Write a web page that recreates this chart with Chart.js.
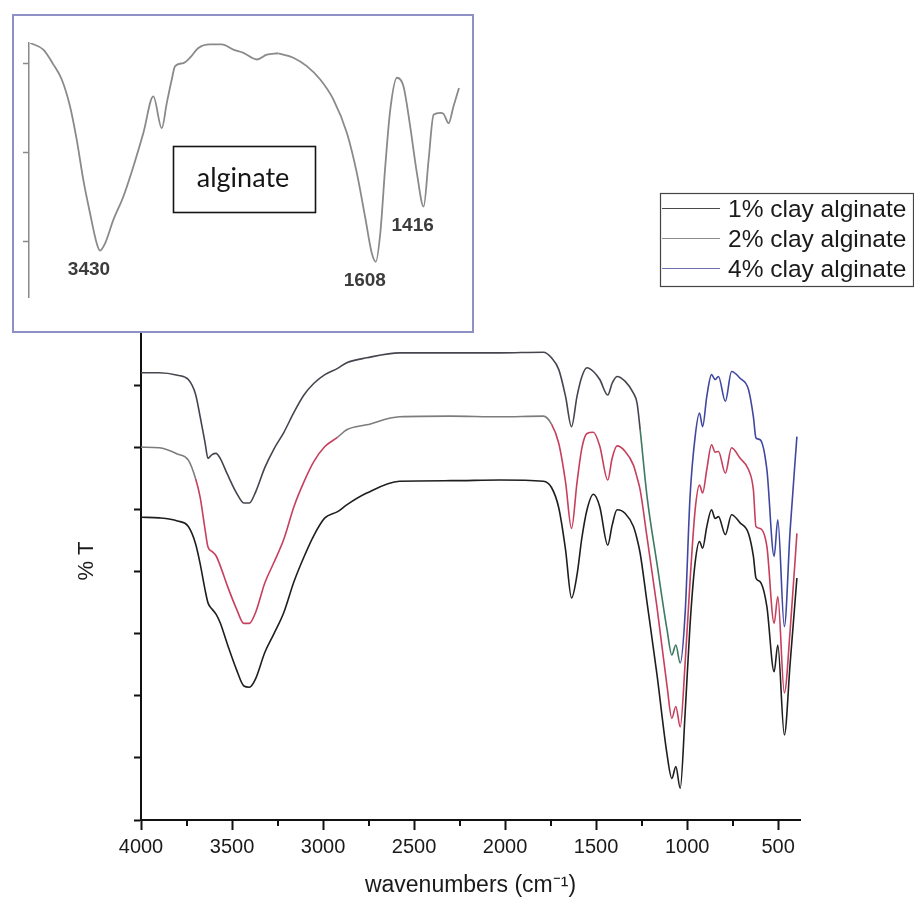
<!DOCTYPE html>
<html>
<head>
<meta charset="utf-8">
<script src="https://cdn.jsdelivr.net/npm/chart.js@4.4.1/dist/chart.umd.min.js"></script>
<style>
  html, body { margin: 0; padding: 0; background: #fff; }
  #wrap { position: relative; width: 914px; height: 905px; }
  #main { position: absolute; left: 0; top: 0; }
  #insetBox { position: absolute; left: 12px; top: 14px; width: 462px; height: 319px;
              box-sizing: border-box; border: 2px solid #8e90c6; background: #fff; }
  #inset { position: absolute; left: 0; top: 0; }
</style>
</head>
<body>
<div id="wrap">
  <canvas id="main" width="914" height="905"></canvas>
  <div id="insetBox"><canvas id="inset" width="458" height="315"></canvas></div>
</div>
<script>
// ---- clay/alginate spectra (wavenumber in cm-1, transmittance in %T, offset traces) ----
const wavenumbers = [
  4000, 3900, 3800, 3740, 3700, 3675, 3648, 3632, 3610, 3588,
  3565, 3525, 3475, 3435, 3405, 3370, 3320, 3270, 3215, 3160,
  3105, 3050, 2990, 2920, 2870, 2760, 2580, 2300, 2030, 1790,
  1745, 1705, 1668, 1635, 1605, 1578, 1550, 1515, 1480, 1436,
  1412, 1385, 1340, 1295, 1275, 1258, 1220, 1166, 1110, 1084,
  1062, 1038, 1011, 984, 956, 932, 915, 892, 866, 846,
  828, 790, 756, 709, 663, 636, 622, 599, 562, 522,
  502, 466, 434, 397
];
const clay1 = [
  48.8, 48.7, 48.2, 47.3, 44.5, 41.3, 37.1, 35.0, 34.0, 33.2,
  31.8, 28.3, 24.2, 21.6, 21.4, 22.8, 27.0, 30.0, 33.5, 38.4,
  42.4, 45.9, 48.7, 49.7, 50.8, 52.7, 54.6, 54.7, 54.8, 54.6,
  53.6, 50.3, 43.6, 35.8, 39.5, 45.5, 50.0, 52.5, 50.5, 44.3,
  47.5, 50.0, 49.4, 47.3, 45.3, 43.0, 35.0, 23.5, 10.5, 6.7,
  8.6, 5.1, 17.2, 31.5, 41.5, 44.9, 43.8, 47.3, 50.0, 48.6,
  48.9, 46.0, 49.2, 47.9, 46.2, 42.5, 39.0, 38.4, 34.4, 23.9,
  28.2, 13.7, 25.3, 39.0
];
const clay2 = [
  60.1, 60.0, 59.0, 58.0, 55.0, 52.0, 46.8, 44.0, 43.3, 42.6,
  41.0, 37.7, 34.0, 31.7, 31.7, 33.5, 38.2, 41.5, 45.3, 50.5,
  54.5, 57.8, 60.2, 61.7, 62.9, 63.7, 65.0, 65.1, 65.0, 65.1,
  63.8, 60.7, 54.5, 47.0, 54.4, 60.0, 62.3, 62.5, 60.3, 54.8,
  58.3, 60.3, 59.4, 57.2, 55.2, 53.2, 45.5, 34.4, 21.5, 16.4,
  18.3, 15.0, 25.3, 38.5, 50.0, 54.0, 52.7, 56.5, 60.5, 59.3,
  59.4, 55.9, 60.0, 58.3, 56.5, 53.2, 47.3, 47.0, 44.1, 31.7,
  36.0, 20.5, 30.6, 46.2
];
const clay4 = [
  72.1, 72.1, 71.7, 71.0, 68.6, 65.0, 60.8, 58.3, 58.9, 59.1,
  58.3, 55.7, 52.7, 51.1, 51.1, 52.9, 56.8, 59.8, 62.5, 65.7,
  68.5, 70.4, 71.8, 72.8, 73.7, 74.5, 75.3, 75.3, 75.3, 75.4,
  74.5, 72.6, 68.3, 63.4, 68.3, 71.5, 72.9, 72.3, 71.0, 68.5,
  70.4, 71.5, 70.7, 68.8, 67.2, 62.9, 52.1, 41.4, 30.6, 26.6,
  28.2, 25.3, 33.3, 52.1, 61.8, 65.6, 63.4, 68.3, 71.8, 71.0,
  71.5, 67.5, 72.3, 71.2, 69.4, 65.0, 61.6, 61.3, 56.5, 42.5,
  48.4, 31.2, 46.8, 61.8
];
const seriesNames = ['1% clay alginate', '2% clay alginate', '4% clay alginate'];
const majorTicks = [4000, 3500, 3000, 2500, 2000, 1500, 1000, 500];
const minorTicks = [3750, 3250, 2750, 2250, 1750, 1250, 750];

// ---- pure alginate reference spectrum (scale expands below 2000 cm-1) ----
const alginateHighWn = [
  3990, 3885, 3805, 3737, 3671, 3617, 3564, 3510, 3456, 3430,
  3390, 3323, 3243, 3162, 3082, 3002, 2934, 2894, 2854, 2827,
  2761, 2707, 2640, 2546, 2452, 2359, 2279, 2171, 2091, 2000
];
const alginateHighT = [
  64.6, 63.1, 59.8, 56.4, 50.4, 42.9, 33.9, 26.4, 19.6, 18.0,
  19.6, 24.9, 30.1, 36.9, 44.4, 52.6, 45.5, 51.1, 56.4, 59.4,
  60.1, 61.3, 63.5, 64.3, 64.3, 63.1, 62.4, 60.9, 62.0, 62.3
];
const alginateLowWn = [
  2000, 1939, 1885, 1831, 1778, 1724, 1684, 1651, 1624, 1608,
  1590, 1570, 1550, 1523, 1497, 1470, 1443, 1416, 1396, 1376,
  1349, 1336, 1316, 1296, 1274
];
const alginateLowT = [
  62.3, 61.3, 59.4, 56.4, 51.9, 44.4, 35.4, 25.6, 17.4, 15.5,
  21.9, 36.9, 49.6, 56.8, 54.9, 45.9, 35.4, 27.9, 38.4, 48.5,
  48.9, 48.7, 46.6, 50.4, 54.5
];
const alginatePeaks = [3430, 1608, 1416];
const insetTitle = 'alginate';

const FONT = '"Liberation Sans", Arial, Helvetica, sans-serif';
const toPoints = (xs, ys) => xs.map((x, i) => ({ x: x, y: ys[i] }));

// trace colours shift along the spectrum as in the scanned plot
const colourTop = ctx => {
  const w = ctx.p0.parsed.x;
  if (w > 1265) return '#45454f';
  if (w > 1038) return '#3e7a60';
  return '#4047a0';
};
const colourMid = ctx => {
  const w = ctx.p0.parsed.x;
  return (w > 3720 || (w < 2950 && w > 1760)) ? '#7c7c7c' : '#c63f5c';
};

// short minor ticks between the labelled wavenumbers
const minorTickPlugin = {
  id: 'minorTickPlugin',
  afterDraw(chart) {
    const xs = chart.scales.x;
    const ctx = chart.ctx;
    ctx.save();
    ctx.strokeStyle = '#111';
    ctx.lineWidth = 2;
    for (const v of minorTicks) {
      const px = Math.round(xs.getPixelForValue(v));
      ctx.beginPath();
      ctx.moveTo(px, xs.top);
      ctx.lineTo(px, xs.top + 6);
      ctx.stroke();
    }
    ctx.restore();
  }
};

// framed legend at the upper right
const legendSwatches = ['#4a4a4a', '#8c8c8c', '#6b6fb0'];
const framedLegend = {
  id: 'framedLegend',
  afterDraw(chart) {
    const ctx = chart.ctx;
    ctx.save();
    ctx.strokeStyle = '#444';
    ctx.lineWidth = 1.2;
    ctx.strokeRect(660.5, 193.5, 253, 93);
    ctx.font = '24.5px ' + FONT;
    ctx.textBaseline = 'alphabetic';
    ctx.textAlign = 'left';
    chart.data.datasets.forEach((ds, i) => {
      const base = 217 + i * 30;
      ctx.strokeStyle = legendSwatches[i];
      ctx.lineWidth = 1.2;
      ctx.beginPath();
      ctx.moveTo(662, base - 8.5);
      ctx.lineTo(720, base - 8.5);
      ctx.stroke();
      ctx.fillStyle = '#1a1a1a';
      ctx.fillText(ds.label, 728, base);
    });
    ctx.restore();
  }
};

new Chart(document.getElementById('main'), {
  type: 'line',
  data: {
    datasets: [
      { label: seriesNames[0], data: toPoints(wavenumbers, clay1), borderColor: '#1e1e1e' },
      { label: seriesNames[1], data: toPoints(wavenumbers, clay2), borderColor: '#c63f5c', segment: { borderColor: colourMid } },
      { label: seriesNames[2], data: toPoints(wavenumbers, clay4), borderColor: '#4047a0', segment: { borderColor: colourTop } }
    ]
  },
  options: {
    responsive: false,
    animation: false,
    events: [],
    layout: { padding: { left: 60, right: 114, top: 302, bottom: 0 } },
    plugins: { legend: { display: false }, tooltip: { enabled: false } },
    elements: {
      point: { radius: 0 },
      line: { borderWidth: 1.6, cubicInterpolationMode: 'monotone', fill: false }
    },
    scales: {
      x: {
        type: 'linear', reverse: true, min: 380, max: 4000,
        afterBuildTicks: s => { s.ticks = majorTicks.map(v => ({ value: v })); },
        ticks: { color: '#1a1a1a', font: { family: FONT, size: 20 }, padding: 5,
                 maxRotation: 0, autoSkip: false, callback: v => String(v) },
        grid: { drawOnChartArea: false, tickLength: 10, tickWidth: 2, tickColor: '#111' },
        border: { color: '#111', width: 2 },
        title: { display: true, text: 'wavenumbers (cm\u207B\u00B9)', color: '#1a1a1a',
                 font: { family: FONT, size: 23 }, padding: { top: 0, bottom: 6 } },
        afterFit: s => { s.height = 85; }
      },
      y: {
        min: 0, max: 83.5,
        ticks: { display: false, stepSize: 10, includeBounds: false },
        grid: { drawOnChartArea: false, tickLength: 7, tickWidth: 2, tickColor: '#111' },
        border: { color: '#111', width: 2 },
        title: { display: true, text: '% T', color: '#1a1a1a',
                 font: { family: FONT, size: 22 }, padding: { top: 14, bottom: 0 } },
        afterFit: s => { s.width = 81; }
      }
    }
  },
  plugins: [minorTickPlugin, framedLegend]
});

// title box and band positions on the alginate spectrum
const insetNotes = {
  id: 'insetNotes',
  afterDatasetsDraw(chart) {
    const ctx = chart.ctx;
    ctx.save();
    ctx.strokeStyle = '#151515';
    ctx.lineWidth = 1.6;
    ctx.strokeRect(159.5, 130.5, 142, 66);
    ctx.fillStyle = '#151515';
    ctx.font = '27px Lato, "Liberation Sans", sans-serif';
    ctx.textAlign = 'center';
    ctx.textBaseline = 'middle';
    ctx.fillText(insetTitle, 229, 162);

    ctx.font = 'bold 19px ' + FONT;
    ctx.fillStyle = '#3c3c3c';
    const yScale = chart.scales.y;
    for (const wn of alginatePeaks) {
      const high = wn >= 2000;
      const xScale = high ? chart.scales.xHigh : chart.scales.xLow;
      const wns = high ? alginateHighWn : alginateLowWn;
      const ts = high ? alginateHighT : alginateLowT;
      const t = ts[wns.indexOf(wn)];
      ctx.fillText(String(wn), xScale.getPixelForValue(wn) - 11, yScale.getPixelForValue(t) + 19);
    }
    ctx.restore();
  }
};

const hiddenX = (min, max, weight) => ({
  type: 'linear', position: 'bottom', stack: 'wn', stackWeight: weight,
  reverse: true, min: min, max: max,
  ticks: { display: false },
  grid: { display: false, drawTicks: false },
  border: { display: false },
  afterFit: s => { s.height = 0; }
});

new Chart(document.getElementById('inset'), {
  type: 'line',
  data: {
    datasets: [
      { label: insetTitle, data: toPoints(alginateHighWn, alginateHighT), xAxisID: 'xHigh' },
      { label: insetTitle, data: toPoints(alginateLowWn, alginateLowT), xAxisID: 'xLow' }
    ]
  },
  options: {
    responsive: false,
    animation: false,
    events: [],
    layout: { padding: { left: 9, right: 12, top: 27, bottom: 34 } },
    plugins: { legend: { display: false }, tooltip: { enabled: false } },
    elements: {
      point: { radius: 0 },
      line: { borderWidth: 1.8, borderColor: '#8a8a8a', cubicInterpolationMode: 'monotone', fill: false }
    },
    scales: {
      xHigh: hiddenX(2000, 4000, 2000),
      xLow: hiddenX(1270, 2000, 1460),
      y: {
        min: 7.6, max: 64.6,
        ticks: { display: false, stepSize: 20, includeBounds: false },
        grid: { drawOnChartArea: false, tickLength: 6, tickWidth: 1.5, tickColor: '#8a8a8a' },
        border: { color: '#8a8a8a', width: 1.5 },
        afterFit: s => { s.width = 6; }
      }
    }
  },
  plugins: [insetNotes]
});
</script>
</body>
</html>
